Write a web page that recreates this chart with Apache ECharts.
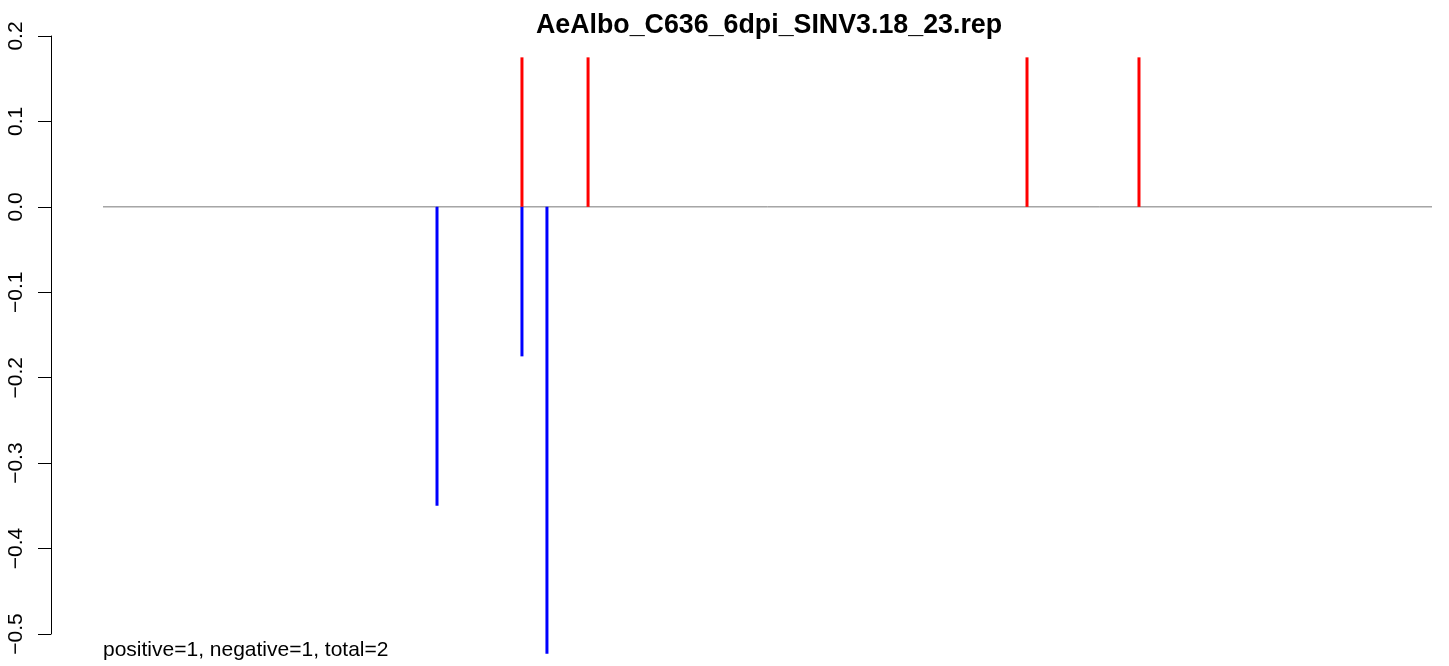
<!DOCTYPE html>
<html>
<head>
<meta charset="utf-8">
<script src="https://cdn.jsdelivr.net/npm/echarts@6/dist/echarts.min.js"></script>
<style>
html,body{margin:0;padding:0;background:#fff;}
#chart{width:1449px;height:666px;}
</style>
</head>
<body>
<div id="chart"></div>
<script>
// Data
const titleText = 'AeAlbo_C636_6dpi_SINV3.18_23.rep';
const footerText = 'positive=1, negative=1, total=2';
const genomeRange = [1, 11703];            // extent of the zero baseline
const positivePos = [3690, 4272, 8137, 9123];
const positiveVal = [0.175, 0.175, 0.175, 0.175];
const negativePos = [2942, 3690, 3910];
const negativeVal = [-0.35, -0.175, -0.523];
const yTicks = [-0.5, -0.4, -0.3, -0.2, -0.1, 0.0, 0.1, 0.2];

const posData = positivePos.map((p, i) => [p, positiveVal[i]]);
const negData = negativePos.map((p, i) => [p, negativeVal[i]]);
const baseData = genomeRange.map(p => [p, 0]);

const chart = echarts.init(document.getElementById('chart'), null, {renderer: 'canvas'});
const font = '"Liberation Sans", Arial, Helvetica, sans-serif';
chart.setOption({
  animation: false,
  backgroundColor: '#ffffff',
  title: {
    text: titleText,
    left: 764,
    textAlign: 'center',
    top: 7,
    textStyle: {fontFamily: font, fontWeight: 'bold', fontSize: 26.8, color: '#000'}
  },
  grid: {left: 103, right: 17, top: 36, bottom: 32, containLabel: false},
  xAxis: {
    type: 'value',
    min: genomeRange[0],
    max: genomeRange[1],
    show: false
  },
  yAxis: {
    type: 'value',
    min: yTicks[0],
    max: yTicks[yTicks.length - 1],
    interval: 0.1,
    position: 'left',
    offset: 52,
    axisLine: {show: true, onZero: false, lineStyle: {color: '#000', width: 1}},
    axisTick: {show: true, length: 13, lineStyle: {color: '#000', width: 1}},
    splitLine: {show: false},
    axisLabel: {
      rotate: 90,
      margin: 24,
      fontFamily: font,
      fontSize: 21,
      color: '#000',
      formatter: v => {
        const r = Math.round(v * 10) / 10;
        return (r < 0 ? '\u2212' : '') + Math.abs(r).toFixed(1);
      }
    }
  },
  series: [
    {
      type: 'line',
      data: baseData,
      symbol: 'none',
      lineStyle: {color: '#787878', width: 1},
      clip: false,
      z: 1
    },
    {
      type: 'bar',
      data: posData,
      barWidth: 3,
      barGap: '-100%',
      clip: false,
      itemStyle: {color: '#ff0000'},
      z: 2
    },
    {
      type: 'bar',
      data: negData,
      barWidth: 3,
      barGap: '-100%',
      clip: false,
      itemStyle: {color: '#0000ff'},
      z: 2
    }
  ],
  graphic: [{
    type: 'text',
    left: 103,
    top: 640,
    style: {text: footerText, fontFamily: font, fontSize: 21, fill: '#000'}
  }]
});
</script>
</body>
</html>
